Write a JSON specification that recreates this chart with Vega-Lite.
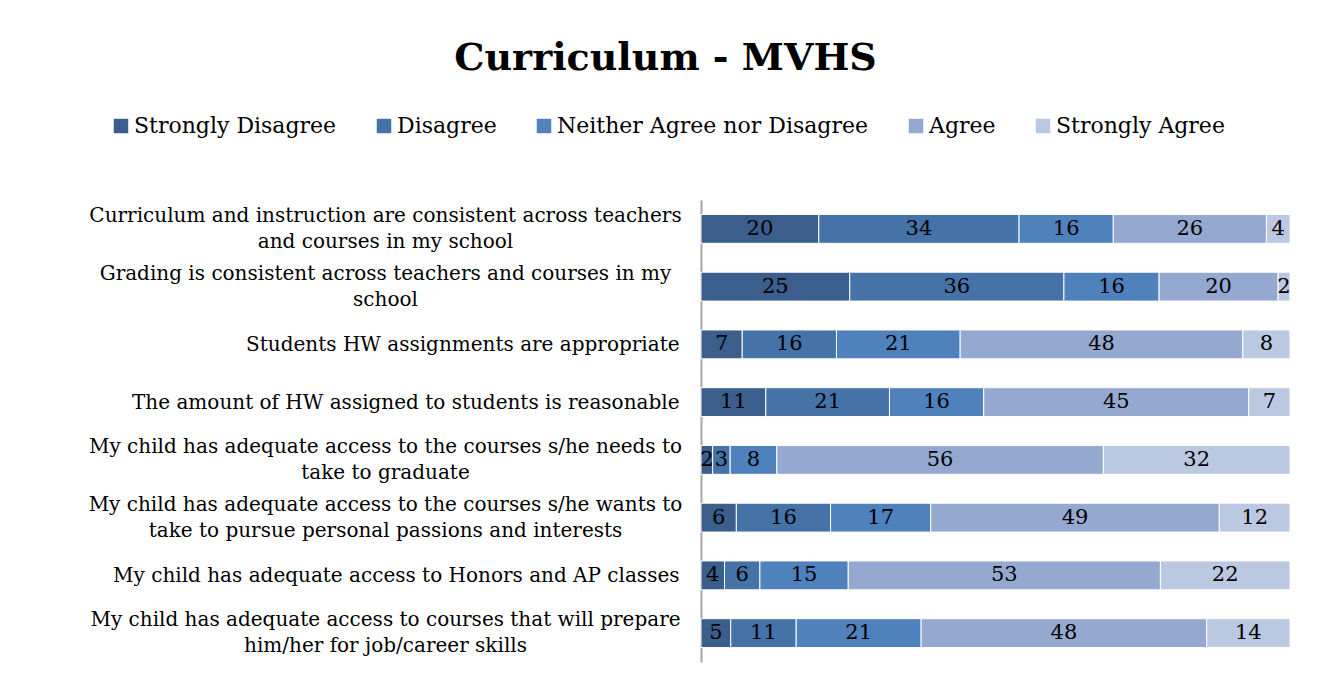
{
  "$schema": "https://vega.github.io/schema/vega-lite/v6.json",
  "autosize": {"type": "none"},
  "width": 589,
  "height": 462,
  "padding": {"left": 701, "top": 200, "right": 33, "bottom": 32},
  "background": "white",
  "config": {"view": {"stroke": null}},
  "title": {
    "text": "Curriculum - MVHS",
    "font": "DejaVu Serif",
    "fontSize": 38,
    "fontWeight": "bold",
    "color": "black",
    "anchor": "middle",
    "frame": "group",
    "dx": -330,
    "offset": 37
  },
  "data": {
    "values": [
      {"q": "Curriculum and instruction are consistent across teachers|and courses in my school", "cat": "Strongly Disagree", "o": 1, "v": 20},
      {"q": "Curriculum and instruction are consistent across teachers|and courses in my school", "cat": "Disagree", "o": 2, "v": 34},
      {"q": "Curriculum and instruction are consistent across teachers|and courses in my school", "cat": "Neither Agree nor Disagree", "o": 3, "v": 16},
      {"q": "Curriculum and instruction are consistent across teachers|and courses in my school", "cat": "Agree", "o": 4, "v": 26},
      {"q": "Curriculum and instruction are consistent across teachers|and courses in my school", "cat": "Strongly Agree", "o": 5, "v": 4},
      {"q": "Grading is consistent across teachers and courses in my|school", "cat": "Strongly Disagree", "o": 1, "v": 25},
      {"q": "Grading is consistent across teachers and courses in my|school", "cat": "Disagree", "o": 2, "v": 36},
      {"q": "Grading is consistent across teachers and courses in my|school", "cat": "Neither Agree nor Disagree", "o": 3, "v": 16},
      {"q": "Grading is consistent across teachers and courses in my|school", "cat": "Agree", "o": 4, "v": 20},
      {"q": "Grading is consistent across teachers and courses in my|school", "cat": "Strongly Agree", "o": 5, "v": 2},
      {"q": "Students HW assignments are appropriate", "cat": "Strongly Disagree", "o": 1, "v": 7},
      {"q": "Students HW assignments are appropriate", "cat": "Disagree", "o": 2, "v": 16},
      {"q": "Students HW assignments are appropriate", "cat": "Neither Agree nor Disagree", "o": 3, "v": 21},
      {"q": "Students HW assignments are appropriate", "cat": "Agree", "o": 4, "v": 48},
      {"q": "Students HW assignments are appropriate", "cat": "Strongly Agree", "o": 5, "v": 8},
      {"q": "The amount of HW assigned to students is reasonable", "cat": "Strongly Disagree", "o": 1, "v": 11},
      {"q": "The amount of HW assigned to students is reasonable", "cat": "Disagree", "o": 2, "v": 21},
      {"q": "The amount of HW assigned to students is reasonable", "cat": "Neither Agree nor Disagree", "o": 3, "v": 16},
      {"q": "The amount of HW assigned to students is reasonable", "cat": "Agree", "o": 4, "v": 45},
      {"q": "The amount of HW assigned to students is reasonable", "cat": "Strongly Agree", "o": 5, "v": 7},
      {"q": "My child has adequate access to the courses s/he needs to|take to graduate", "cat": "Strongly Disagree", "o": 1, "v": 2},
      {"q": "My child has adequate access to the courses s/he needs to|take to graduate", "cat": "Disagree", "o": 2, "v": 3},
      {"q": "My child has adequate access to the courses s/he needs to|take to graduate", "cat": "Neither Agree nor Disagree", "o": 3, "v": 8},
      {"q": "My child has adequate access to the courses s/he needs to|take to graduate", "cat": "Agree", "o": 4, "v": 56},
      {"q": "My child has adequate access to the courses s/he needs to|take to graduate", "cat": "Strongly Agree", "o": 5, "v": 32},
      {"q": "My child has adequate access to the courses s/he wants to|take to pursue personal passions and interests", "cat": "Strongly Disagree", "o": 1, "v": 6},
      {"q": "My child has adequate access to the courses s/he wants to|take to pursue personal passions and interests", "cat": "Disagree", "o": 2, "v": 16},
      {"q": "My child has adequate access to the courses s/he wants to|take to pursue personal passions and interests", "cat": "Neither Agree nor Disagree", "o": 3, "v": 17},
      {"q": "My child has adequate access to the courses s/he wants to|take to pursue personal passions and interests", "cat": "Agree", "o": 4, "v": 49},
      {"q": "My child has adequate access to the courses s/he wants to|take to pursue personal passions and interests", "cat": "Strongly Agree", "o": 5, "v": 12},
      {"q": "My child has adequate access to Honors and AP classes", "cat": "Strongly Disagree", "o": 1, "v": 4},
      {"q": "My child has adequate access to Honors and AP classes", "cat": "Disagree", "o": 2, "v": 6},
      {"q": "My child has adequate access to Honors and AP classes", "cat": "Neither Agree nor Disagree", "o": 3, "v": 15},
      {"q": "My child has adequate access to Honors and AP classes", "cat": "Agree", "o": 4, "v": 53},
      {"q": "My child has adequate access to Honors and AP classes", "cat": "Strongly Agree", "o": 5, "v": 22},
      {"q": "My child has adequate access to courses that will prepare|him/her for job/career skills", "cat": "Strongly Disagree", "o": 1, "v": 5},
      {"q": "My child has adequate access to courses that will prepare|him/her for job/career skills", "cat": "Disagree", "o": 2, "v": 11},
      {"q": "My child has adequate access to courses that will prepare|him/her for job/career skills", "cat": "Neither Agree nor Disagree", "o": 3, "v": 21},
      {"q": "My child has adequate access to courses that will prepare|him/her for job/career skills", "cat": "Agree", "o": 4, "v": 48},
      {"q": "My child has adequate access to courses that will prepare|him/her for job/career skills", "cat": "Strongly Agree", "o": 5, "v": 14}
    ]
  },
  "transform": [
    {"stack": "v", "groupby": ["q"], "sort": [{"field": "o", "order": "ascending"}], "as": ["x0", "x1"], "offset": "normalize"},
    {"calculate": "(datum.x0 + datum.x1) / 2", "as": "mid"}
  ],
  "encoding": {
    "y": {
      "field": "q",
      "type": "nominal",
      "sort": null,
      "scale": {"paddingInner": 0.5, "paddingOuter": 0.25},
      "axis": {
        "title": null,
        "ticks": false,
        "domainColor": "#a6a6a6",
        "domainWidth": 2,
        "labelExpr": "split(datum.label, '|')",
        "labelFont": "DejaVu Serif",
        "labelFontSize": 20,
        "labelColor": "black",
        "labelLineHeight": 26,
        "labelLimit": 700,
        "labelAlign": {"condition": {"test": "indexof(datum.value, '|') >= 0", "value": "center"}, "value": "right"},
        "labelPadding": {"condition": {"test": "indexof(datum.value, '|') >= 0", "value": 316}, "value": 22},
        "labelOffset": {"condition": {"test": "indexof(datum.value, '|') >= 0", "value": -13}, "value": 1}
      }
    }
  },
  "layer": [
    {
      "mark": {"type": "bar", "stroke": "white", "strokeWidth": 1},
      "encoding": {
        "x": {"field": "x0", "type": "quantitative", "scale": {"domain": [0, 1], "nice": false}, "axis": null},
        "x2": {"field": "x1"},
        "color": {
          "field": "cat",
          "type": "nominal",
          "scale": {
            "domain": ["Strongly Disagree", "Disagree", "Neither Agree nor Disagree", "Agree", "Strongly Agree"],
            "range": ["#3b5e8c", "#4572a7", "#4f81bd", "#95a9d0", "#bac8e2"]
          },
          "legend": {
            "title": null,
            "orient": "none",
            "direction": "horizontal",
            "columns": 5,
            "legendX": -591,
            "legendY": -85,
            "symbolType": "square",
            "symbolSize": 210,
            "symbolStrokeWidth": 0,
            "labelFont": "DejaVu Serif",
            "labelFontSize": 22,
            "labelColor": "black",
            "labelOffset": 2,
            "columnPadding": 36,
            "labelLimit": 400
          }
        }
      }
    },
    {
      "mark": {"type": "text", "font": "DejaVu Serif", "fontSize": 21, "color": "black", "baseline": "middle", "align": "center"},
      "encoding": {
        "x": {"field": "mid", "type": "quantitative"},
        "text": {"field": "v", "type": "quantitative"}
      }
    }
  ]
}
